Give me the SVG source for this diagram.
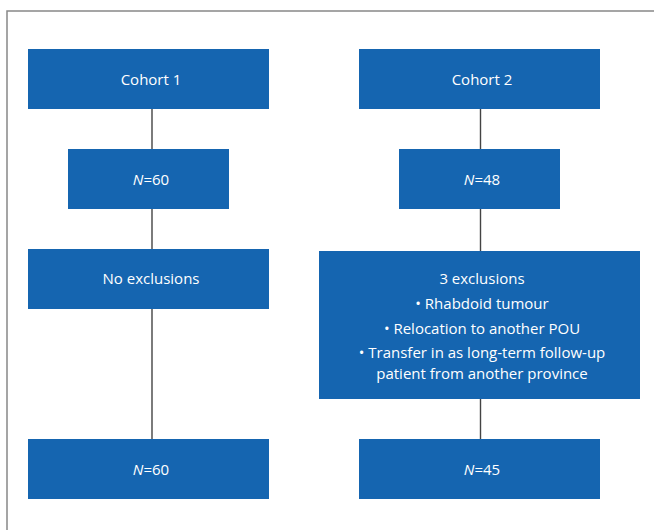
<svg xmlns="http://www.w3.org/2000/svg" width="654" height="530" viewBox="0 0 654 530">
<style>
.box{fill:#1565B0}
.t{font-family:"Open Sans","Noto Sans",sans-serif;font-size:15px;fill:#ffffff;text-anchor:middle}
.c{stroke:#444;stroke-width:1.4;fill:none}
.fr{fill:none;stroke:#888;stroke-width:1.5}
</style>
<rect width="654" height="530" fill="#ffffff"/>
<path class="fr" d="M654,11 H7 V530"/>
<g id="connectors">
<line class="c" x1="152" y1="109" x2="152" y2="149"/>
<line class="c" x1="152" y1="209" x2="152" y2="249"/>
<line class="c" x1="152" y1="309" x2="152" y2="439"/>
<line class="c" x1="480.5" y1="109" x2="480.5" y2="149"/>
<line class="c" x1="480.5" y1="209" x2="480.5" y2="251"/>
<line class="c" x1="480.5" y1="399" x2="480.5" y2="439"/>
</g>
<g id="cohort1"><rect class="box" x="28" y="49" width="241" height="60"/><text class="t" x="151" y="85">Cohort 1</text></g>
<g id="n60a"><rect class="box" x="68" y="149" width="161" height="60"/><text class="t" x="151" y="185"><tspan font-style="italic">N</tspan>=60</text></g>
<g id="noexcl"><rect class="box" x="28" y="249" width="241" height="60"/><text class="t" x="151" y="284">No exclusions</text></g>
<g id="n60b"><rect class="box" x="28" y="439" width="241" height="60"/><text class="t" x="151" y="475"><tspan font-style="italic">N</tspan>=60</text></g>
<g id="cohort2"><rect class="box" x="359" y="49" width="241" height="60"/><text class="t" x="482" y="85">Cohort 2</text></g>
<g id="n48"><rect class="box" x="399" y="149" width="161" height="60"/><text class="t" x="482" y="185"><tspan font-style="italic">N</tspan>=48</text></g>
<g id="excl3"><rect class="box" x="319" y="251" width="321" height="148"/>
<text class="t" x="482" y="284">3 exclusions</text>
<text class="t" x="482" y="309">• Rhabdoid tumour</text>
<text class="t" x="482" y="334">• Relocation to another POU</text>
<text class="t" x="482" y="358">• Transfer in as long-term follow-up</text>
<text class="t" x="482" y="379">patient from another province</text>
</g>
<g id="n45"><rect class="box" x="359" y="439" width="241" height="60"/><text class="t" x="482" y="475"><tspan font-style="italic">N</tspan>=45</text></g>
</svg>
